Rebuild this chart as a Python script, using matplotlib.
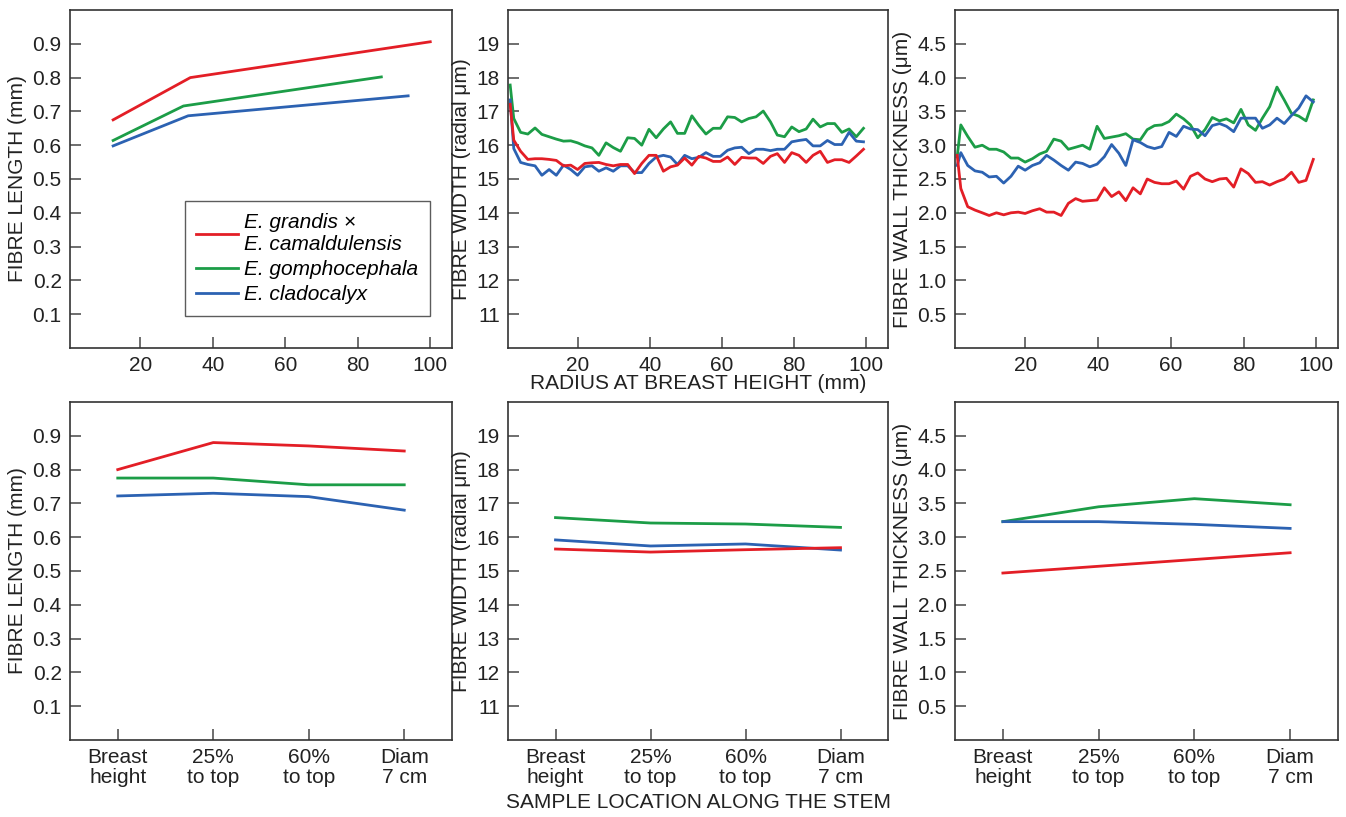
import matplotlib
matplotlib.use("Agg")
import matplotlib.pyplot as plt

plt.rcParams["font.family"] = ["Liberation Sans", "DejaVu Sans"]
plt.rcParams["font.size"] = 15

RED = "#e31e26"
GREEN = "#1c9d47"
BLUE = "#2c62b2"

labels = ["E. grandis ×\nE. camaldulensis", "E. gomphocephala", "E. cladocalyx"]
locations = ["Breast\nheight", "25%\nto top", "60%\nto top", "Diam\n7 cm"]

# fibre length against radius (few points per species)
len_rad_red_x = [12.5, 33.8, 100.0]
len_rad_red_y = [0.675, 0.800, 0.906]
len_rad_green_x = [12.5, 31.9, 86.5]
len_rad_green_y = [0.614, 0.716, 0.802]
len_rad_blue_x = [12.5, 33.2, 93.9]
len_rad_blue_y = [0.598, 0.687, 0.746]

# radial profiles (width and wall thickness)
radius = [1.2, 2.2, 4.1, 6.1, 8.1, 10.0, 12.0, 14.0, 16.0, 18.0, 19.9, 21.9,
          23.9, 25.8, 27.8, 29.8, 31.8, 33.8, 35.7, 37.7, 39.7, 41.7, 43.7,
          45.7, 47.6, 49.6, 51.6, 53.5, 55.5, 57.5, 59.5, 61.5, 63.5, 65.4,
          67.4, 69.4, 71.4, 73.4, 75.3, 77.3, 79.3, 81.3, 83.3, 85.2, 87.2,
          89.2, 91.2, 93.2, 95.2, 97.2, 99.2]

width_red = [17.21, 16.15, 15.82, 15.58, 15.60, 15.60, 15.58, 15.55, 15.39, 15.41,
             15.28, 15.46, 15.48, 15.49, 15.43, 15.39, 15.43, 15.43, 15.16, 15.46,
             15.70, 15.70, 15.23, 15.36, 15.41, 15.62, 15.41, 15.67, 15.62, 15.52,
             15.52, 15.65, 15.43, 15.64, 15.62, 15.62, 15.46, 15.67, 15.75, 15.49,
             15.78, 15.70, 15.49, 15.70, 15.82, 15.49, 15.57, 15.57, 15.49, 15.68,
             15.88]
width_green = [17.78, 16.79, 16.38, 16.33, 16.51, 16.32, 16.25, 16.18, 16.12, 16.13,
               16.07, 15.98, 15.92, 15.70, 16.07, 15.93, 15.82, 16.22, 16.20, 16.00,
               16.47, 16.22, 16.48, 16.69, 16.35, 16.35, 16.87, 16.59, 16.33, 16.50,
               16.50, 16.84, 16.82, 16.69, 16.79, 16.84, 17.01, 16.69, 16.30, 16.25,
               16.54, 16.40, 16.48, 16.77, 16.54, 16.64, 16.64, 16.38, 16.48, 16.25,
               16.50]
width_blue = [17.34, 15.90, 15.49, 15.43, 15.39, 15.11, 15.28, 15.11, 15.41, 15.28,
              15.11, 15.36, 15.39, 15.23, 15.33, 15.23, 15.39, 15.39, 15.19, 15.19,
              15.46, 15.65, 15.70, 15.65, 15.43, 15.70, 15.60, 15.64, 15.78, 15.67,
              15.67, 15.85, 15.92, 15.94, 15.75, 15.88, 15.88, 15.84, 15.88, 15.88,
              16.10, 16.14, 16.17, 15.98, 15.98, 16.14, 16.02, 16.02, 16.38, 16.12,
              16.10]

wall_red = [2.85, 2.36, 2.09, 2.04, 2.00, 1.96, 2.00, 1.97, 2.00, 2.01,
            1.99, 2.03, 2.06, 2.01, 2.01, 1.96, 2.14, 2.21, 2.17, 2.18,
            2.19, 2.37, 2.24, 2.31, 2.18, 2.37, 2.28, 2.50, 2.45, 2.43,
            2.43, 2.47, 2.35, 2.54, 2.59, 2.50, 2.46, 2.50, 2.51, 2.38,
            2.65, 2.58, 2.45, 2.46, 2.41, 2.46, 2.50, 2.60, 2.45, 2.48,
            2.79]
wall_green = [2.83, 3.30, 3.13, 2.97, 3.00, 2.94, 2.94, 2.90, 2.81, 2.81,
              2.75, 2.80, 2.87, 2.91, 3.09, 3.06, 2.94, 2.97, 3.00, 2.94,
              3.28, 3.10, 3.12, 3.14, 3.17, 3.09, 3.08, 3.23, 3.29, 3.30,
              3.35, 3.46, 3.39, 3.30, 3.11, 3.23, 3.41, 3.36, 3.39, 3.33,
              3.53, 3.30, 3.22, 3.40, 3.57, 3.86, 3.67, 3.47, 3.43, 3.36,
              3.67]
wall_blue = [2.70, 2.89, 2.70, 2.62, 2.60, 2.53, 2.54, 2.44, 2.54, 2.69,
             2.63, 2.70, 2.74, 2.85, 2.78, 2.70, 2.63, 2.75, 2.73, 2.68,
             2.72, 2.83, 3.01, 2.88, 2.70, 3.08, 3.04, 2.98, 2.95, 2.98,
             3.19, 3.13, 3.28, 3.24, 3.23, 3.14, 3.29, 3.32, 3.28, 3.20,
             3.40, 3.40, 3.40, 3.25, 3.30, 3.40, 3.32, 3.44, 3.55, 3.73,
             3.64]

# stem-height means
len_stem_red = [0.800, 0.880, 0.870, 0.855]
len_stem_green = [0.775, 0.775, 0.755, 0.755]
len_stem_blue = [0.722, 0.730, 0.720, 0.680]
width_stem_red = [15.65, 15.56, 15.63, 15.69]
width_stem_green = [16.58, 16.42, 16.39, 16.29]
width_stem_blue = [15.92, 15.74, 15.80, 15.62]
wall_stem_red = [2.47, 2.57, 2.67, 2.77]
wall_stem_green = [3.23, 3.45, 3.57, 3.48]
wall_stem_blue = [3.23, 3.23, 3.19, 3.13]

fig = plt.figure(figsize=(13.46, 8.17), dpi=100)
W, H = 1346, 817
cols = [(70, 452), (508, 888), (955, 1338)]
rows = [(10, 348), (402, 740)]
axes = {}
for r, (t, b) in enumerate(rows):
    for c, (l, rr) in enumerate(cols):
        axes[(r, c)] = fig.add_axes([l / W, 1 - b / H, (rr - l) / W, (b - t) / H])

LW = 2.0


def style(ax):
    for s in ax.spines.values():
        s.set_color("#333333")
        s.set_linewidth(1.2)
    ax.tick_params(direction="in", length=8, width=1.2, color="#555555",
                   labelcolor="#222222", labelsize=15, pad=6, top=False, right=False)


# y settings per column
ylims = [(0, 1.0), (10, 20), (0, 5)]
yticks = [[0.1, 0.2, 0.3, 0.4, 0.5, 0.6, 0.7, 0.8, 0.9],
          list(range(11, 20)),
          [0.5, 1.0, 1.5, 2.0, 2.5, 3.0, 3.5, 4.0, 4.5]]
ytl = [["0.1", "0.2", "0.3", "0.4", "0.5", "0.6", "0.7", "0.8", "0.9"],
       [str(v) for v in range(11, 20)],
       ["0.5", "1.0", "1.5", "2.0", "2.5", "3.0", "3.5", "4.0", "4.5"]]
ylabels = ["FIBRE LENGTH (mm)", "FIBRE WIDTH (radial μm)", "FIBRE WALL THICKNESS (μm)"]

# top row
ax = axes[(0, 0)]
ax.plot(len_rad_red_x, len_rad_red_y, color=RED, lw=LW, label=labels[0])
ax.plot(len_rad_green_x, len_rad_green_y, color=GREEN, lw=LW, label=labels[1])
ax.plot(len_rad_blue_x, len_rad_blue_y, color=BLUE, lw=LW, label=labels[2])
leg = ax.legend(loc="lower right", bbox_to_anchor=(0.942, 0.095), borderaxespad=0,
                frameon=True, fancybox=False, edgecolor="#333333",
                handlelength=2.0, handletextpad=0.3, borderpad=0.55, labelspacing=0.3,
                prop={"style": "italic", "size": 15})
leg.get_frame().set_linewidth(1.0)

ax = axes[(0, 1)]
ax.plot(radius, width_green, color=GREEN, lw=LW)
ax.plot(radius, width_blue, color=BLUE, lw=LW)
ax.plot(radius, width_red, color=RED, lw=LW)

ax = axes[(0, 2)]
ax.plot(radius, wall_green, color=GREEN, lw=LW)
ax.plot(radius, wall_blue, color=BLUE, lw=LW)
ax.plot(radius, wall_red, color=RED, lw=LW)

for c in range(3):
    ax = axes[(0, c)]
    ax.set_xlim(0.6, 106)
    ax.set_xticks([20, 40, 60, 80, 100])

# bottom row
stem = [(len_stem_red, len_stem_green, len_stem_blue),
        (width_stem_red, width_stem_green, width_stem_blue),
        (wall_stem_red, wall_stem_green, wall_stem_blue)]
for c in range(3):
    ax = axes[(1, c)]
    rd, gr, bl = stem[c]
    ax.plot(range(len(locations)), gr, color=GREEN, lw=LW)
    ax.plot(range(len(locations)), bl, color=BLUE, lw=LW)
    ax.plot(range(len(locations)), rd, color=RED, lw=LW)
    ax.set_xlim(-0.5, 3.5)
    ax.set_xticks(range(len(locations)))
    ax.set_xticklabels(locations, linespacing=1.05)

for (r, c), ax in axes.items():
    style(ax)
    ax.set_ylim(*ylims[c])
    ax.set_yticks(yticks[c])
    ax.set_yticklabels(ytl[c])
    ax.set_ylabel(ylabels[c], fontsize=15, labelpad=4, color="#222222")

fig.text(698 / W, 1 - 384 / H, "RADIUS AT BREAST HEIGHT (mm)", ha="center", va="center",
         fontsize=15, color="#222222")
fig.text(698 / W, 1 - 802 / H, "SAMPLE LOCATION ALONG THE STEM", ha="center", va="center",
         fontsize=15, color="#222222")

fig.savefig("out.png", dpi=100)
